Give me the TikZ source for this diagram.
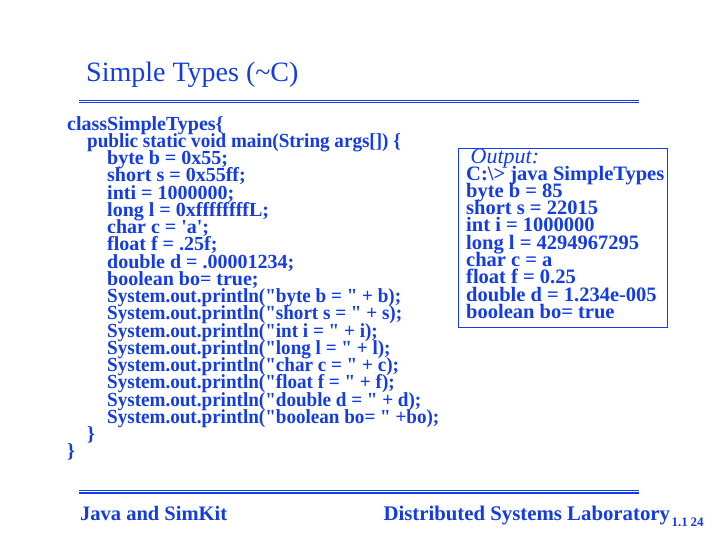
\documentclass[tikz,border=0pt]{standalone}
\usepackage{fontspec}
\newfontfamily\serif{Liberation Serif}
\definecolor{slideblue}{RGB}{20,60,230}
\newcommand{\squeeze}[1]{\scalebox{0.955}[1]{#1}}
\tikzset{
  txt/.style={inner sep=0pt, anchor=base west, text=slideblue},
  code/.style={txt, text height=13pt, text depth=3.5pt, font=\serif\bfseries\fontsize{20}{20}\selectfont},
  outp/.style={txt, text height=13pt, text depth=3.5pt, font=\serif\bfseries\fontsize{20.5}{20.5}\selectfont},
  rule/.style={draw=slideblue, line width=1.3pt}
}
\begin{document}
\begin{tikzpicture}[x=1pt,y=-1pt]
\useasboundingbox[fill=white] (0,0) rectangle (719,539);
% title
\node[txt, font=\serif\fontsize{28}{28}\selectfont] (title) at (86,81.5) {Simple Types (\textasciitilde C)};
\coordinate (t1a) at (79,100.3); \coordinate (t1b) at (639,100.3);
\coordinate (t2a) at (79,102.8); \coordinate (t2b) at (639,102.8);
\draw[rule] (t1a) -- (t1b);
\draw[rule] (t2a) -- (t2b);
% code
\node[code] (c0) at (67,130) {classSimpleTypes\{};
\node[code] (c1) at (87,147.3) {\squeeze{public static void main(String args[]) \{}};
\node[code] (c2) at (107,164.5) {byte b = 0x55;};
\node[code] (c3) at (107,181.8) {short s = 0x55ff;};
\node[code] (c4) at (107,199) {inti = 1000000;};
\node[code] (c5) at (107,216.3) {long l = 0xffffffffL;};
\node[code] (c6) at (107,233.5) {char c = 'a';};
\node[code] (c7) at (107,250.8) {float f = .25f;};
\node[code] (c8) at (107,268) {double d = .00001234;};
\node[code] (c9) at (107,285.3) {boolean bo= true;};
\node[code] (c10) at (107,302.5) {\squeeze{System.out.println("byte b = " + b);}};
\node[code] (c11) at (107,319.8) {\squeeze{System.out.println("short s = " + s);}};
\node[code] (c12) at (107,337) {\squeeze{System.out.println("int i = " + i);}};
\node[code] (c13) at (107,354.3) {\squeeze{System.out.println("long l = " + l);}};
\node[code] (c14) at (107,371.5) {\squeeze{System.out.println("char c = " + c);}};
\node[code] (c15) at (107,388.8) {\squeeze{System.out.println("float f = " + f);}};
\node[code] (c16) at (107,406) {\squeeze{System.out.println("double d = " + d);}};
\node[code] (c17) at (107,423.3) {\squeeze{System.out.println("boolean bo= " +bo);}};
\node[code] (c18) at (87,440.5) {\}};
\node[code] (c19) at (67,457.8) {\}};
% output box
\coordinate (ba) at (458.3,148.3); \coordinate (bb) at (667.3,327.7);
\draw[draw=slideblue, line width=1.2pt] (ba) rectangle (bb);
\node[txt, text height=13pt, text depth=3pt, font=\serif\itshape\fontsize{22}{22}\selectfont] (o0) at (470.5,163.3) {Output:};
\node[outp] (o1) at (466,180) {C:\textbackslash> java SimpleTypes};
\node[outp] (o2) at (466,197.3) {byte b = 85};
\node[outp] (o3) at (466,214.6) {short s = 22015};
\node[outp] (o4) at (466,231.9) {int i = 1000000};
\node[outp] (o5) at (466,249.2) {long l = 4294967295};
\node[outp] (o6) at (466,266.5) {char c = a};
\node[outp] (o7) at (466,283.8) {float f = 0.25};
\node[outp] (o8) at (466,301.1) {double d = 1.234e-005};
\node[outp] (o9) at (466,318.4) {boolean bo= true};
% footer
\coordinate (f1a) at (79,490.8); \coordinate (f1b) at (639,490.8);
\coordinate (f2a) at (79,493.1); \coordinate (f2b) at (639,493.1);
\draw[rule] (f1a) -- (f1b);
\draw[rule] (f2a) -- (f2b);
\node[txt, font=\serif\bfseries\fontsize{20.5}{20.5}\selectfont] (foot1) at (80,520) {Java and SimKit};
\node[txt, font=\serif\bfseries\fontsize{20.8}{20.8}\selectfont] (foot2) at (383.3,520) {Distributed Systems Laboratory};
\node[txt, font=\serif\bfseries\fontsize{13}{13}\selectfont] (ver) at (671.5,526.7) {1.1};
\node[txt, font=\serif\bfseries\fontsize{13}{13}\selectfont] (pg) at (690.5,526.7) {24};
\end{tikzpicture}
\end{document}
